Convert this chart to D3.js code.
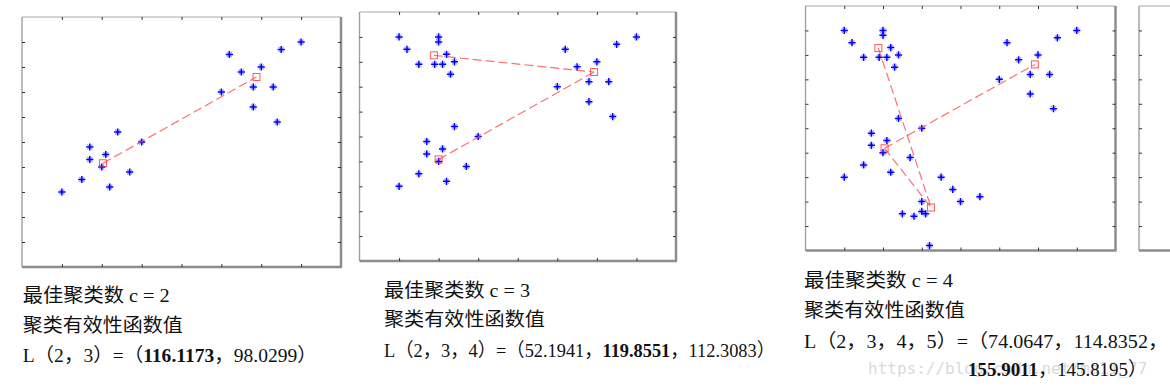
<!DOCTYPE html>
<html>
<head>
<meta charset="utf-8">
<script src="https://cdn.jsdelivr.net/npm/d3@7"></script>
<style>
body { margin: 0; background: #fff; }
svg { display: block; }
</style>
</head>
<body>
<div id="chart"></div>
<script>
// sample points, in axis units (box is 0..8 wide, 0..10 high)
let groupA = [[1, 3], [1.5, 3.5], [1.7, 4.8], [1.7, 4.3], [2, 4], [2.1, 4.5], [2.2, 3.2], [2.4, 5.4], [2.7, 3.8], [3, 5]];
let groupB = [[5, 7], [5.2, 8.5], [5.5, 7.8], [5.8, 7.2], [5.8, 6.4], [6, 8], [6.3, 7.2], [6.4, 5.8], [6.5, 8.7], [7, 9]];
let groupC = [[1, 9], [1.2, 8.5], [1.5, 7.9], [1.9, 7.9], [2, 9], [2, 8.8], [2.1, 7.9], [2.2, 8.3], [2.3, 7.5], [2.4, 8]];
let groupD = [[3.5, 3], [3.8, 2.5], [4, 2], [4.5, 2.2], [3, 2], [3, 1.6], [3.1, 1.5], [2.5, 1.5], [2.8, 1.4], [3.2, 0.2]];

// cluster centres found for c = 2, 3, 4 and the dashed links between them
let centers2 = [[2.03, 4.15], [5.88, 7.6]];
let centers3 = [[1.88, 8.26], [2.0, 4.08], [5.93, 7.59]];
let centers4 = [[1.88, 8.28], [2.04, 4.18], [5.92, 7.61], [3.24, 1.76]];
let links2 = [[0, 1]];
let links3 = [[0, 2], [1, 2]];
let links4 = [[0, 3], [1, 2], [1, 3]];

let xTicks = [1, 2, 3, 4, 5, 6, 7];
let yTicks = [1, 2, 3, 4, 5, 6, 7, 8, 9];

// validity function values
let clusterCounts = [2, 3, 4];
let L2 = [116.1173, 98.0299];
let L3 = [52.1941, 119.8551, 112.3083];
let L4 = [74.0647, 114.8352, 155.9011, 145.8195];

let W = 1170, H = 387;
let svg = d3.select("#chart").append("svg")
    .attr("width", W)
    .attr("height", H);

let panels = [
    {x0: 22, y0: 17, x1: 341, y1: 267, points: [groupA, groupB], centers: centers2, links: links2},
    {x0: 359.5, y0: 12, x1: 676, y1: 261, points: [groupA, groupB, groupC], centers: centers3, links: links3},
    {x0: 805.5, y0: 6, x1: 1115.5, y1: 250.5, points: [groupA, groupB, groupC, groupD], centers: centers4, links: links4},
    {x0: 1139, y0: 6, x1: 1449, y1: 250.5, points: [], centers: [], links: []}
];

function star(g) {
    // matlab '*' marker: plus with a fainter cross
    g.append("path")
        .attr("d", "M-2.5,-2.5L2.5,2.5M-2.5,2.5L2.5,-2.5")
        .attr("stroke", "#0000ff").attr("stroke-opacity", 0.4).attr("stroke-width", 1.1);
    g.append("path")
        .attr("d", "M-3.6,0H3.6M0,-3.6V3.6")
        .attr("stroke", "#0000ff").attr("stroke-width", 1.5);
}

panels.forEach(function (p) {
    let x = d3.scaleLinear().domain([0, 8]).range([p.x0, p.x1]);
    let y = d3.scaleLinear().domain([0, 10]).range([p.y1, p.y0]);
    let g = svg.append("g");

    // box: light top/left, heavier shaded right/bottom
    g.append("line").attr("x1", p.x0).attr("x2", p.x1).attr("y1", p.y0).attr("y2", p.y0)
        .attr("stroke", "#a8a8a8").attr("stroke-width", 1.2);
    g.append("line").attr("x1", p.x0).attr("x2", p.x0).attr("y1", p.y0).attr("y2", p.y1)
        .attr("stroke", "#a0a0a0").attr("stroke-width", 1.4);
    g.append("line").attr("x1", p.x0).attr("x2", p.x1 + 1).attr("y1", p.y1).attr("y2", p.y1)
        .attr("stroke", "#8c8c8c").attr("stroke-width", 2.5);
    g.append("line").attr("x1", p.x1).attr("x2", p.x1).attr("y1", p.y0).attr("y2", p.y1)
        .attr("stroke", "#8c8c8c").attr("stroke-width", 2.5);

    // inward ticks on all four sides
    let axes = [
        [d3.axisBottom(x).tickValues(xTicks), p.y1, 0],
        [d3.axisTop(x).tickValues(xTicks), p.y0, 0],
        [d3.axisLeft(y).tickValues(yTicks), 0, p.x0],
        [d3.axisRight(y).tickValues(yTicks), 0, p.x1]
    ];
    axes.forEach(function (a) {
        let ag = g.append("g")
            .attr("transform", "translate(" + a[2] + "," + a[1] + ")")
            .call(a[0].tickSize(-3).tickSizeOuter(0).tickFormat(""));
        ag.select(".domain").remove();
        ag.selectAll("line").attr("stroke", "#333").attr("stroke-width", 1);
    });

    // data points
    p.points.forEach(function (grp) {
        grp.forEach(function (d) {
            let s = g.append("g").attr("transform", "translate(" + x(d[0]) + "," + y(d[1]) + ")");
            star(s);
        });
    });

    // dashed links between centres
    p.links.forEach(function (l) {
        let a = p.centers[l[0]], b = p.centers[l[1]];
        g.append("line")
            .attr("x1", x(a[0])).attr("y1", y(a[1]))
            .attr("x2", x(b[0])).attr("y2", y(b[1]))
            .attr("stroke", "#ff4040").attr("stroke-opacity", 0.75)
            .attr("stroke-width", 1.2)
            .attr("stroke-dasharray", "9,4");
    });

    // centres as open squares
    g.selectAll(".ctr").data(p.centers).enter().append("rect")
        .attr("x", d => x(d[0]) - 3.5)
        .attr("y", d => y(d[1]) - 3.5)
        .attr("width", 7).attr("height", 7)
        .attr("fill", "none")
        .attr("stroke", "#ff3030").attr("stroke-opacity", 0.8)
        .attr("stroke-width", 1);
});

// text under each plot; widths stretched to match the wide source lettering
let font = "'Liberation Serif', 'Noto Sans CJK SC', serif";
let textPos = [
    {x: 22.7, base: [302, 332, 362], w: [147, 160, 294]},
    {x: 384, base: [297, 326, 357], w: [146, 161, 391]},
    {x: 804, base: [287, 317, 348, 376], w: [149, 161, 364, 179]}
];
let values = [L2, L3, L4];

// watermark sits under the last line
svg.append("text")
    .attr("x", 868).attr("y", 374)
    .attr("font-family", "'DejaVu Sans Mono', monospace")
    .attr("font-size", 16)
    .attr("fill", "#dadada")
    .text("https://blog.csdn.net/ma11_77");

clusterCounts.forEach(function (c, i) {
    let tp = textPos[i];
    let vals = values[i];
    let best = d3.maxIndex(vals);
    let t = svg.append("g")
        .attr("font-family", font)
        .attr("font-size", 19)
        .attr("fill", "#111");

    function addLine(xx, row) {
        return t.append("text").attr("x", xx).attr("y", tp.base[row])
            .attr("textLength", tp.w[row])
            .attr("lengthAdjust", "spacingAndGlyphs");
    }

    addLine(tp.x, 0).text("最佳聚类数 c = " + c);
    addLine(tp.x, 1).text("聚类有效性函数值");

    let args = d3.range(2, 2 + vals.length).join("，");
    let segs = [{s: "L（" + args + "）=（", b: false}];
    vals.forEach(function (v, k) {
        segs.push({s: String(v), b: k === best});
        segs.push({s: k < vals.length - 1 ? "，" : "）", b: false});
    });

    let line = addLine(tp.x, 2);
    segs.forEach(function (sg, k) {
        // c = 4 breaks after the second value
        if (i === 2 && k === 5) {
            line = addLine(968, 3);
        }
        line.append("tspan")
            .attr("font-weight", sg.b ? "bold" : null)
            .text(sg.s);
    });
});
</script>
</body>
</html>
